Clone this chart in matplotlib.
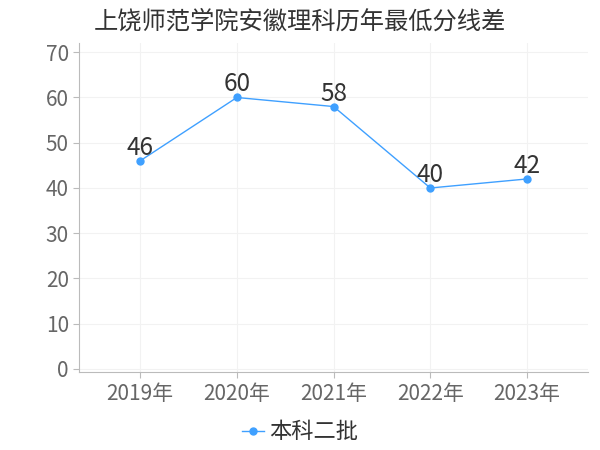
import numpy as np
import matplotlib.pyplot as plt

plt.rcParams['font.family'] = ['Noto Sans CJK SC', 'DejaVu Sans']

years = ['2019年', '2020年', '2021年', '2022年', '2023年']
scores = [46, 60, 58, 40, 42]
series_name = '本科二批'
title = '上饶师范学院安徽理科历年最低分线差'

line_color = '#3fa0ff'

fig = plt.figure(figsize=(6, 4.5), dpi=100)
ax = fig.add_axes([0.132, 0.173, 0.848, 0.731])

x = np.arange(len(years))
ax.plot(x, scores, color=line_color, lw=1, marker='o', ms=5, label=series_name)
for xi, v in zip(x, scores):
    ax.annotate(str(v), (xi, v), xytext=(0, 0), textcoords='offset points',
                ha='center', va='bottom', fontsize=17.5, color='#333333')

ax.set_xlim(-0.63, 4.63)
ax.set_ylim(-0.7, 72)
ax.set_xticks(x)
ax.set_xticklabels(years)
ax.set_yticks(range(0, 71, 10))

ax.grid(True, color='#f2f2f2', lw=0.8)
ax.set_axisbelow(True)
for s in ['top', 'right']:
    ax.spines[s].set_visible(False)
ax.spines['left'].set_color('#bbbbbb')
ax.spines['bottom'].set_color('#bbbbbb')
ax.tick_params(axis='both', colors='#bbbbbb', labelcolor='#666666', labelsize=15, length=4)

fig.suptitle(title, x=0.5, y=0.98, fontsize=17.5, color='#333333')

fig.legend(loc='lower center', bbox_to_anchor=(0.5, -0.03), frameon=False,
           fontsize=16, handlelength=1.0, handletextpad=0.2, labelcolor='#333333')

fig.savefig('out.png', dpi=100)
